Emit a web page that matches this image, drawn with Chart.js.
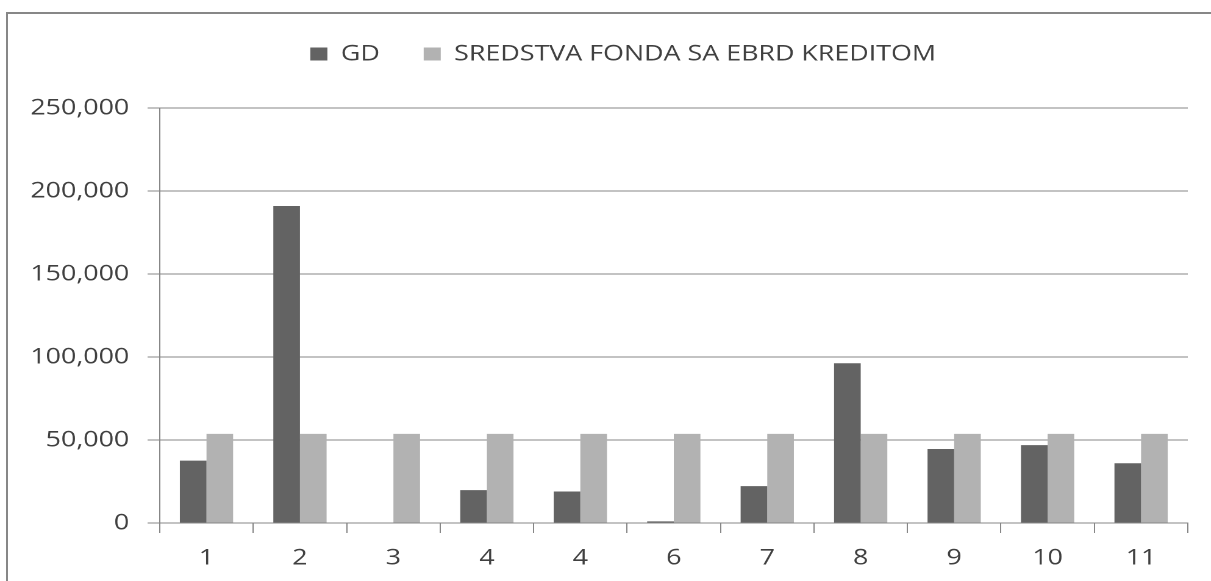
<!DOCTYPE html>
<html lang="sr">
<head>
<meta charset="UTF-8">
<title>GD i sredstva fonda</title>
<script src="https://cdn.jsdelivr.net/npm/chart.js"></script>
<style>
  html, body { margin: 0; padding: 0; background: #fff; overflow: hidden; }
  /* outer chart frame, cut off at the right and bottom like the picture */
  #frame { position: absolute; left: 6px; top: 12px; width: 1300px; height: 700px; border: 2px solid #878787; }
  /* the source image is stretched sideways, so stretch the canvas the same way */
  #wrap { position: absolute; left: 0; top: 0; width: 993px; height: 581px; transform: scaleX(1.2195); transform-origin: 0 0; }
</style>
</head>
<body>
<div id="frame"></div>
<div id="wrap"><canvas id="chart" width="993" height="581"></canvas></div>

<script>
// data
const categories = ['1', '2', '3', '4', '4', '6', '7', '8', '9', '10', '11'];
const gd = [37600, 191000, 0, 19800, 19000, 1000, 22200, 96200, 44600, 46900, 36000];
const sredstva = [53700, 53700, 53700, 53700, 53700, 53700, 53700, 53700, 53700, 53700, 53700];
const yMin = 0;
const yMax = 250000;
const yStep = 50000;

const textColor = '#404040';
const lineColor = '#878787';

Chart.defaults.font.family = "'Open Sans', sans-serif";
Chart.defaults.color = textColor;

// extra room under the legend, and nudge it a bit to the right
const legendPlace = {
    id: 'legendPlace',
    beforeInit(chart) {
        const fit = chart.legend.fit;
        chart.legend.fit = function () {
            fit.call(this);
            this.height += 33;
        };
    },
    afterLayout(chart) {
        chart.legend.left += 24;
        chart.legend.right += 24;
    }
};

function draw() {
    const ctx = document.getElementById('chart').getContext('2d');
    new Chart(ctx, {
        type: 'bar',
        data: {
            labels: categories,
            datasets: [
                { label: 'GD', data: gd, backgroundColor: '#636363' },
                { label: 'SREDSTVA FONDA SA EBRD KREDITOM', data: sredstva, backgroundColor: '#b2b2b2' }
            ]
        },
        options: {
            responsive: false,
            animation: false,
            devicePixelRatio: 2,
            datasets: { bar: { categoryPercentage: 0.57, barPercentage: 1.0 } },
            layout: { padding: { top: 7, left: 0, right: 19, bottom: 0 } },
            plugins: {
                legend: {
                    position: 'top',
                    labels: {
                        boxWidth: 14,
                        boxHeight: 13,
                        padding: 36,
                        color: textColor,
                        font: { size: 22 }
                    }
                },
                tooltip: { enabled: false }
            },
            scales: {
                x: {
                    grid: { display: true, drawOnChartArea: false, drawTicks: true, tickLength: 10, color: lineColor, offset: true },
                    border: { display: true, color: lineColor, width: 1 },
                    ticks: { font: { size: 22 }, color: textColor, padding: 12, maxRotation: 0, autoSkip: false },
                    afterFit(scale) { scale.height = 58; }
                },
                y: {
                    min: yMin,
                    max: yMax,
                    grid: { color: lineColor, tickLength: 10 },
                    border: { display: true, color: lineColor, width: 1 },
                    ticks: {
                        stepSize: yStep,
                        font: { size: 22 },
                        color: textColor,
                        padding: 15,
                        callback: v => v.toLocaleString('en-US')
                    },
                    afterFit(scale) { scale.width = 131; }
                }
            }
        },
        plugins: [legendPlace]
    });
}

document.fonts.load('22px "Open Sans"').then(draw, draw);
</script>
</body>
</html>
